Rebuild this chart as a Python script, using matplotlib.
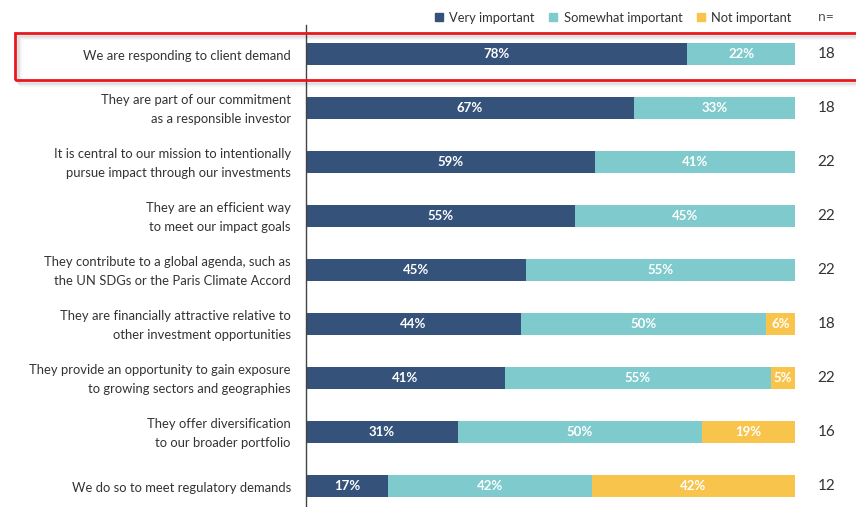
import matplotlib
matplotlib.use("Agg")
import matplotlib.pyplot as plt
from matplotlib.patches import Rectangle
from matplotlib.lines import Line2D

categories = [
    "We are responding to client demand",
    "They are part of our commitment\nas a responsible investor",
    "It is central to our mission to intentionally\npursue impact through our investments",
    "They are an efficient way\nto meet our impact goals",
    "They contribute to a global agenda, such as\nthe UN SDGs or the Paris Climate Accord",
    "They are financially attractive relative to\nother investment opportunities",
    "They provide an opportunity to gain exposure\nto growing sectors and geographies",
    "They offer diversification\nto our broader portfolio",
    "We do so to meet regulatory demands",
]
very_important = [78, 67, 59, 55, 45, 44, 41, 31, 17]
somewhat_important = [22, 33, 41, 45, 55, 50, 55, 50, 42]
not_important = [0, 0, 0, 0, 0, 6, 5, 19, 42]
n_values = [18, 18, 22, 22, 22, 18, 22, 16, 12]
series_names = ["Very important", "Somewhat important", "Not important"]

colors = ["#34527a", "#7ecacd", "#f9c44b"]
text_color = "#333333"

W, H = 856, 507
fig = plt.figure(figsize=(W / 100, H / 100), dpi=100)
fig.patch.set_facecolor("white")
plt.rcParams["font.family"] = ["Lato", "DejaVu Sans"]

ax_left, ax_right = 306, 795
ax_top, ax_bot = 25, 507
ax = fig.add_axes([ax_left / W, 1 - ax_bot / H, (ax_right - ax_left) / W, (ax_bot - ax_top) / H])
row0, step = 54, 54
ax.set_ylim((ax_bot - row0) / step, (ax_top - row0) / step)
ax.set_xlim(0, 100)

series = [very_important, somewhat_important, not_important]
for i, cat in enumerate(categories):
    total = sum(s[i] for s in series)
    left = 0
    for k, s in enumerate(series):
        v = s[i]
        if v <= 0:
            continue
        w = v / total * 100
        ax.barh(i, w, left=left, height=0.42, color=colors[k], edgecolor="none")
        ax.text(left + w / 2, i, f"{v}%", ha="center", va="center", color="white",
                fontsize=9.5, fontweight="bold")
        left += w
    ax.text(-3.1, i + 0.03, cat, ha="right", va="center", fontsize=9.4, color=text_color,
            linespacing=1.72, clip_on=False)
    ax.text(106.4, i, str(n_values[i]), ha="center", va="center", fontsize=11,
            color=text_color, clip_on=False)

for sp in ["top", "right", "bottom"]:
    ax.spines[sp].set_visible(False)
ax.spines["left"].set_color("#444444")
ax.spines["left"].set_linewidth(1.0)
ax.set_xticks([])
ax.set_yticks([])

# legend
handles = [Line2D([0], [0], marker="s", linestyle="none", markersize=6,
                  markerfacecolor=c, markeredgecolor=c) for c in colors]
fig.legend(handles, series_names, loc="center right", bbox_to_anchor=(797 / W, 1 - 18 / H),
           ncol=3, frameon=False, fontsize=9.3, handletextpad=0.35, columnspacing=1.0,
           handlelength=0.9, borderaxespad=0, labelcolor=text_color)
fig.text(826 / W, 1 - 17 / H, "n=", ha="center", va="center", fontsize=10, color="#555555")

# highlight box with soft shadow
for j, a in enumerate([0.05, 0.04, 0.03, 0.02]):
    off = 2 + j
    fig.patches.append(Rectangle(((15 + off) / W, 1 - (80 + off) / H), (860 - 15) / W, (80 - 33) / H,
                                 transform=fig.transFigure, facecolor="none",
                                 edgecolor=(0, 0, 0, a), linewidth=2.5, zorder=1))
fig.patches.append(Rectangle((15 / W, 1 - 80 / H), (860 - 15) / W, (80 - 33) / H,
                             transform=fig.transFigure, facecolor="none",
                             edgecolor="#e8181e", linewidth=2, zorder=5))

fig.savefig("out.png", dpi=100, facecolor="white")
